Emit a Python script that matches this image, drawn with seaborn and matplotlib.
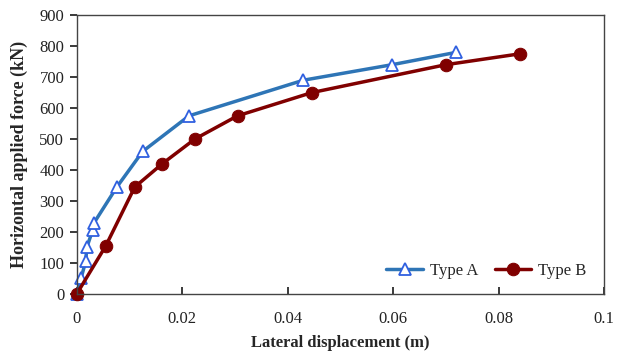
import pandas as pd
import matplotlib
matplotlib.use('Agg')
import matplotlib.pyplot as plt
import seaborn as sns

# Data
disp_a = [0, 0.0008, 0.0017, 0.0019, 0.0030, 0.0033, 0.0076, 0.0125, 0.0213, 0.0430, 0.0598, 0.0720]
force_a = [0, 50, 105, 150, 205, 230, 345, 460, 575, 690, 740, 780]

disp_b = [0, 0.0055, 0.0110, 0.0162, 0.0224, 0.0305, 0.0446, 0.0700, 0.0840]
force_b = [0, 155, 345, 420, 500, 575, 650, 740, 775]

df_a = pd.DataFrame({'disp': disp_a, 'force': force_a})
df_b = pd.DataFrame({'disp': disp_b, 'force': force_b})

sns.set_theme(style="ticks")
plt.rcParams['font.family'] = ['Liberation Serif', 'DejaVu Serif']

fig = plt.figure(figsize=(6.24, 3.52), dpi=100)
ax = fig.add_axes([0.123, 0.165, 0.845, 0.792])

sns.lineplot(data=df_a, x='disp', y='force', ax=ax, sort=False, color='#2e75b6', linewidth=2.5,
             marker='^', markersize=8, markerfacecolor='white', markeredgecolor='#3060e0',
             markeredgewidth=1.3, label='Type A', clip_on=False)
sns.lineplot(data=df_b, x='disp', y='force', ax=ax, sort=False, color='#800000', linewidth=2.5,
             marker='o', markersize=9, markerfacecolor='#800000', markeredgecolor='#800000',
             label='Type B', clip_on=False)

ax.set_xlim(0, 0.1)
ax.set_ylim(0, 900)
ax.set_xticks([0, 0.02, 0.04, 0.06, 0.08, 0.1])
ax.set_xticklabels(['0', '0.02', '0.04', '0.06', '0.08', '0.1'])
ax.set_yticks(range(0, 901, 100))
ax.tick_params(axis='x', direction='in', length=5, labelsize=12, pad=12, colors='#222222')
ax.tick_params(axis='y', direction='out', length=5, labelsize=12, pad=4, colors='#222222')
for s in ax.spines.values():
    s.set_color('#444444')
    s.set_linewidth(1.0)

ax.set_xlabel('Lateral displacement (m)', fontsize=12, fontweight='bold', labelpad=6)
ax.set_ylabel('Horizontal applied force (kN)', fontsize=13, fontweight='bold', labelpad=8)

ax.legend(loc='lower right', ncol=2, frameon=False, fontsize=12, bbox_to_anchor=(0.995, 0.0),
          handlelength=2.2, handletextpad=0.4, columnspacing=1.0)

fig.savefig('out.png', dpi=100)
